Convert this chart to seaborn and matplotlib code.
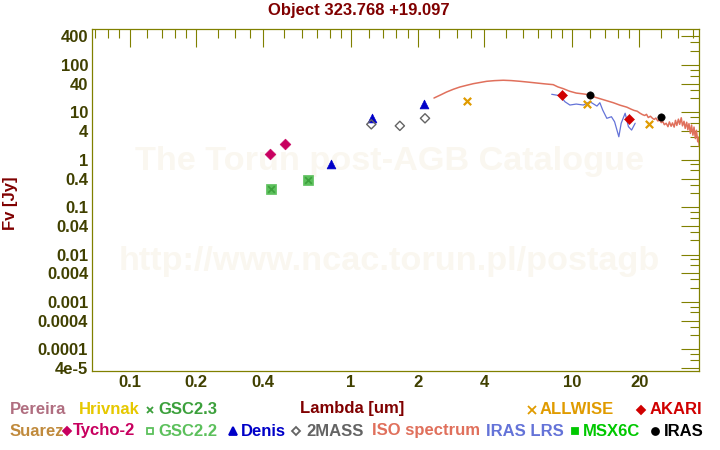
import matplotlib
matplotlib.use("Agg")
import matplotlib.pyplot as plt
from matplotlib.ticker import NullFormatter
import seaborn as sns

# photometry, wavelength [um] and flux [Jy]
tycho_wave = [0.43, 0.505]
tycho_flux = [1.30, 2.12]
gsc_wave = [0.437, 0.641]
gsc_flux = [0.237, 0.367]
denis_wave = [0.81, 1.248, 2.14]
denis_flux = [0.81, 7.7, 14.8]
tmass_wave = [1.235, 1.662, 2.159]
tmass_flux = [5.6, 5.2, 7.5]
allwise_wave = [3.35, 11.6, 22.1]
allwise_flux = [17.1, 14.8, 5.6]
akari_wave = [9.0, 18.0]
akari_flux = [23.3, 7.2]
iras_wave = [12.0, 25.0]
iras_flux = [23.3, 7.9]

# ISO spectrum
iso_wave = [2.37, 2.55, 2.70, 2.90, 3.10, 3.35, 3.57, 3.85, 4.10, 4.45, 4.87, 5.30,
            5.80, 6.30, 6.89, 7.50, 8.19, 8.60, 9.09, 9.70, 10.4, 11.0, 11.6, 12.4,
            13.3, 14.3, 15.3, 16.4, 17.6, 18.4, 19.0, 19.6, 20.2, 20.7, 21.2, 21.6,
            22.0, 22.5, 23.0, 23.4, 23.8, 24.3, 24.7, 25.2, 25.6, 26.0, 26.5, 27.0,
            27.4, 27.9, 28.3, 28.8, 29.2, 29.6, 30.1, 30.5, 31.0, 31.4, 31.9, 32.3,
            32.8, 33.2, 33.6, 34.1, 34.5, 35.0, 35.4, 35.9, 36.3, 36.8, 37.1, 37.4]
iso_flux = [20.1, 23.6, 26.9, 30.8, 34.3, 37.6, 40.4, 43.0, 45.3, 46.8, 47.7, 46.9,
            45.3, 43.6, 41.7, 40.0, 38.5, 34.5, 31.7, 28.0, 25.6, 24.8, 24.0, 21.5,
            19.5, 17.6, 16.0, 14.2, 12.9, 11.7, 11.0, 10.6, 9.6, 9.0, 8.6, 9.1,
            7.8, 8.3, 7.5, 7.1, 7.6, 6.6, 6.9, 6.1, 6.4, 5.5, 5.9, 5.0,
            6.3, 5.1, 6.0, 4.9, 6.8, 5.3, 7.2, 5.6, 7.7, 5.2, 6.5, 4.6,
            6.2, 4.3, 5.8, 3.6, 5.4, 3.3, 4.9, 2.8, 4.2, 2.4, 3.0, 1.9]

# IRAS LRS spectrum
lrs_wave = [8.06, 8.78, 9.25, 9.74, 10.4, 11.2, 12.0, 12.9, 13.3, 13.7, 14.3, 15.0,
            15.5, 16.2, 16.6, 17.3, 17.9, 18.5, 19.2]
lrs_flux = [24.1, 22.5, 16.8, 14.3, 15.0, 14.3, 16.8, 13.6, 16.0, 11.2, 7.5, 8.1,
            6.35, 3.06, 5.9, 9.6, 5.0, 4.24, 5.9]

x_major = [0.1, 0.2, 0.4, 1, 2, 4, 10, 20]
x_major_labels = ['0.1', '0.2', '0.4', '1', '2', '4', '10', '20']
x_minor = [0.07, 0.08, 0.09, 0.12, 0.14, 0.16, 0.18, 0.25, 0.3, 0.35, 0.5, 0.6, 0.7,
           0.8, 0.9, 1.2, 1.4, 1.6, 1.8, 2.5, 3, 3.5, 5, 6, 7, 8, 9, 12, 14, 16, 18,
           25, 30, 35]
y_major = [400, 100, 40, 10, 4, 1, 0.4, 0.1, 0.04, 0.01, 0.004, 0.001, 0.0004, 0.0001, 4e-5]
y_major_labels = ['400', '100', '40', '10', '4', '1', '0.4', '0.1', '0.04', '0.01',
                  '0.004', '0.001', '0.0004', '0.0001', '4e-5']
y_minor = [6e-5, 8e-5, 2e-4, 3e-4, 6e-4, 8e-4, 2e-3, 3e-3, 6e-3, 8e-3, 0.02, 0.03,
           0.06, 0.08, 0.2, 0.3, 0.6, 0.8, 2, 3, 6, 8, 20, 30, 60, 80, 200, 300]

sns.set_theme(style="white")
plt.rcParams['font.family'] = ['Liberation Sans', 'DejaVu Sans']
plt.rcParams['font.weight'] = 'bold'

olive = '#808000'
dark_olive = '#404000'
dark_red = '#800000'

fig = plt.figure(figsize=(7.2, 4.5), dpi=100)
ax = fig.add_axes([92.3 / 720, 1 - 371 / 450, 607 / 720, 341.7 / 450])
ax.set_xscale('log')
ax.set_yscale('log')

# watermark
ax.text(0.49, 0.612, 'The Torun post-AGB Catalogue', transform=ax.transAxes,
        ha='center', va='center', fontsize=24.7, color='#faf7f0', zorder=0)
ax.text(0.49, 0.319, 'http://www.ncac.torun.pl/postagb', transform=ax.transAxes,
        ha='center', va='center', fontsize=24.7, color='#faf7f0', zorder=0)

sns.lineplot(x=iso_wave, y=iso_flux, ax=ax, color='#e0705c', lw=1.1, sort=False,
             estimator=None)
sns.lineplot(x=lrs_wave, y=lrs_flux, ax=ax, color='#6473d8', lw=0.9, sort=False,
             estimator=None)

sns.scatterplot(x=gsc_wave, y=gsc_flux, ax=ax, marker='s', s=42, color='#5cc05c',
                edgecolor='#5cc05c', linewidth=0.5, zorder=3)
sns.scatterplot(x=gsc_wave, y=gsc_flux, ax=ax, marker='x', s=22, color='#3ca03c',
                linewidth=1.2, zorder=4)
sns.scatterplot(x=tycho_wave, y=tycho_flux, ax=ax, marker='D', s=30, color='#c8005f',
                edgecolor='#c8005f', zorder=4)
sns.scatterplot(x=denis_wave, y=denis_flux, ax=ax, marker='^', s=40, color='#0000c8',
                edgecolor='#0000c8', zorder=4)
sns.scatterplot(x=tmass_wave, y=tmass_flux, ax=ax, marker='D', s=22, facecolor='none',
                edgecolor='#646464', linewidth=1.0, zorder=4)
sns.scatterplot(x=allwise_wave, y=allwise_flux, ax=ax, marker='x', s=28, color='#e09b00',
                linewidth=1.6, zorder=4)
sns.scatterplot(x=akari_wave, y=akari_flux, ax=ax, marker='D', s=26, color='#d00000',
                edgecolor='#d00000', zorder=5)
sns.scatterplot(x=iras_wave, y=iras_flux, ax=ax, marker='o', s=28, color='black',
                edgecolor='black', zorder=5)

ax.set_xticks(x_major, x_major_labels)
ax.set_xticks(x_minor, minor=True)
ax.set_yticks(y_major, y_major_labels)
ax.set_yticks(y_minor, minor=True)
ax.set_xlim(0.0679, 37.4)
ax.set_ylim(3.49e-5, 567)
ax.xaxis.set_minor_formatter(NullFormatter())
ax.yaxis.set_minor_formatter(NullFormatter())
ax.tick_params(which='both', direction='in', top=True, right=True, color=olive,
               width=0.8, labelcolor=dark_olive, labelsize=12)
ax.tick_params(which='major', length=13)
ax.tick_params(which='minor', length=6.5)
ax.tick_params(axis='x', pad=3)
ax.tick_params(axis='y', pad=3)
for sp in ax.spines.values():
    sp.set_color(olive)
    sp.set_linewidth(0.9)
ax.set_facecolor('white')

ax.set_xlabel('Lambda [um]', color=dark_red, fontsize=12, fontweight='bold')
ax.xaxis.set_label_coords((352 - 92.3) / 607, (371 - 408) / 341.7)
ax.xaxis.label.set_va('center')
ax.set_ylabel('Fv [Jy]', color=dark_red, fontsize=12, fontweight='bold')
ax.yaxis.set_label_coords((10 - 92.3) / 607, (371 - 203) / 341.7)
ax.yaxis.label.set_va('center')

# overlay in pixel coordinates for title and legend
ov = fig.add_axes([0, 0, 1, 1], facecolor='none')
ov.set_xlim(0, 720)
ov.set_ylim(450, 0)
ov.axis('off')
ov.text(359, 11, 'Object 323.768 +19.097', ha='center', va='center', fontsize=12,
        color=dark_red)

legend_text = [
    ('Pereira', 10, 410, '#b06e80'),
    ('Hrivnak', 79, 410, '#e6c800'),
    ('GSC2.3', 158, 410, '#3ca03c'),
    ('ALLWISE', 540, 410, '#e09b00'),
    ('AKARI', 650, 410, '#d00000'),
    ('Suarez', 10, 431, '#c08a3c'),
    ('Tycho-2', 73, 431, '#c8005f'),
    ('GSC2.2', 158, 431, '#5cc05c'),
    ('Denis', 241, 431, '#0000c8'),
    ('2MASS', 306, 431, '#646464'),
    ('ISO spectrum', 372, 431, '#e0705c'),
    ('IRAS LRS', 486, 431, '#6473d8'),
    ('MSX6C', 583, 431, '#00c800'),
    ('IRAS', 664, 431, 'black'),
]
for label, lx, ly, c in legend_text:
    ov.text(lx, ly, label, ha='left', va='center', fontsize=12, color=c)

legend_marks = [
    (150, 410, 'x', '#3ca03c', True, 5.0),
    (532, 410, 'x', '#e09b00', True, 6.0),
    (641, 410, 'D', '#d00000', True, 4.5),
    (67, 431, 'D', '#c8005f', True, 4.5),
    (150, 431, 's', '#5cc05c', False, 5.0),
    (233, 431, '^', '#0000c8', True, 5.5),
    (296, 431, 'D', '#646464', False, 4.5),
    (575, 431, 's', '#00c800', True, 5.0),
    (655, 431, 'o', 'black', True, 5.0),
]
for mx, my, m, c, filled, size in legend_marks:
    ov.plot([mx], [my], marker=m, ms=size, color=c, mew=1.3,
            mfc=c if filled else 'none', mec=c)

fig.savefig('out.png', dpi=100)
